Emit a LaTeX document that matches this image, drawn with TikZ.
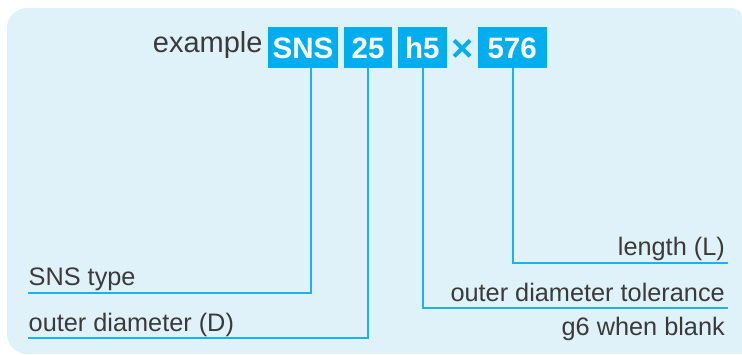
\documentclass[tikz,border=0pt]{standalone}
\usepackage{fontspec}
\setmainfont{Liberation Sans}
\definecolor{panel}{HTML}{DFF2FA}
\definecolor{tagblue}{HTML}{00AEEF}
\definecolor{linkblue}{HTML}{1BB1EC}
\definecolor{ink}{HTML}{3A3A3A}
\tikzset{
  tag/.style={fill=tagblue, text=white, inner sep=0pt, minimum height=41pt,
    text height=20.5pt, text depth=0pt, font=\fontsize{29.5}{30}\selectfont\bfseries},
  lbl/.style={inner sep=0pt, text=ink, font=\fontsize{25.3}{30}\selectfont},
  link/.style={draw=linkblue, line width=1.8pt}
}
\begin{document}
\begin{tikzpicture}[x=1pt,y=1pt]
\useasboundingbox (0,0) rectangle (742,354);
% panel
\fill[panel] (7,20) -- (7,326) arc(180:90:20) -- (732,346) arc(90:0:10) -- (742,0) -- (27,0) arc(270:180:20) -- cycle;

% code line
\node[lbl, font=\fontsize{29}{32}\selectfont, anchor=base west] (ex) at (152.7,301.3) {example};
\node[tag, minimum width=69.5pt] (bSNS) at (303,306.2) {SNS};
\node[tag, minimum width=48.3pt] (b25) at (368.1,306.2) {25};
\node[tag, minimum width=49.3pt] (bh5) at (422.3,306.2) {h5};
\node[inner sep=0pt, text=tagblue, font=\fontsize{38}{38}\selectfont\bfseries] (times) at (462.2,304) {×};
\node[tag, minimum width=69pt] (b576) at (512.2,306.2) {576};

% connector corners and free ends
\coordinate (cSNS) at (311,60.7);   \coordinate (eSNS) at (28.3,60.7);
\coordinate (c25)  at (367.7,16.3); \coordinate (e25)  at (28.3,16.3);
\coordinate (ch5)  at (423.3,46);   \coordinate (eh5)  at (727.7,46);
\coordinate (c576) at (512.7,90.7); \coordinate (e576) at (727.7,90.7);

\draw[link] (bSNS.south -| cSNS) -- (cSNS) -- (eSNS);
\draw[link] (b25.south -| c25) -- (c25) -- (e25);
\draw[link] (bh5.south -| ch5) -- (ch5) -- (eh5);
\draw[link] (b576.south -| c576) -- (c576) -- (e576);

% labels
\node[lbl, anchor=base west] (tSNS) at (28.5,68.3) {SNS type};
\node[lbl, anchor=base west] (t25) at (28.5,23) {outer diameter (D)};
\node[lbl, anchor=base east] (t576) at (725,99) {length (L)};
\node[lbl, anchor=base east] (th5) at (725,53) {outer diameter tolerance};
\node[lbl, anchor=base east] (th5b) at (725,19) {g6 when blank};
\end{tikzpicture}
\end{document}
